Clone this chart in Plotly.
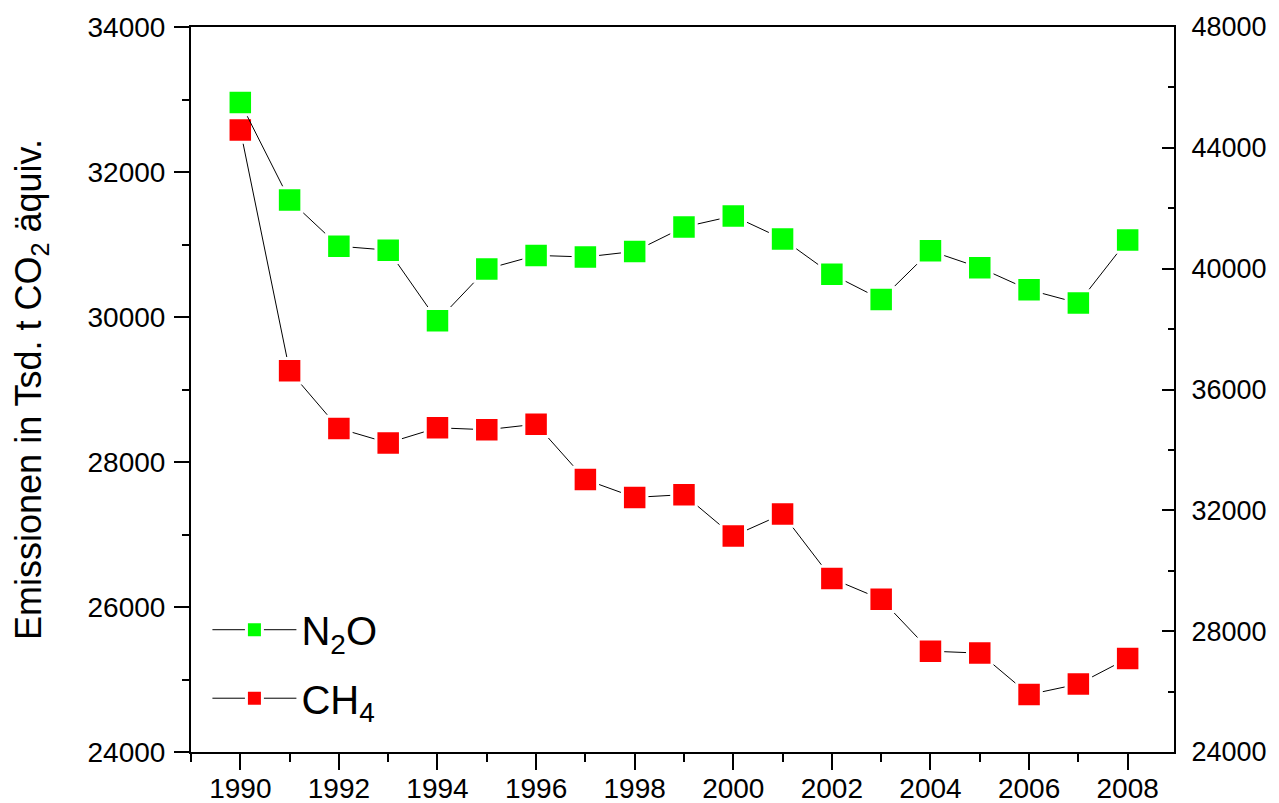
import plotly.graph_objects as go

years = list(range(1990, 2009))
n2o = [45504, 42271, 40744, 40612, 38275, 39990, 40440, 40387, 40572, 41378,
       41746, 40985, 39812, 38982, 40589, 40033, 39299, 38860, 40949]
ch4 = [32581, 29258, 28463, 28263, 28472, 28445, 28522, 27758, 27512, 27550,
       26979, 27282, 26393, 26107, 25391, 25364, 24792, 24937, 25291]

FONT = "Liberation Sans, Arial, Helvetica, sans-serif"

fig = go.Figure()
fig.add_trace(go.Scatter(
    x=years, y=n2o, yaxis="y2", mode="lines+markers", name="N<sub>2</sub>O",
    legendgroup="a",
    line=dict(color="black", width=1),
    marker=dict(symbol="square", size=24.5, color="#00ff00",
                line=dict(color="white", width=3)),
))
fig.add_trace(go.Scatter(
    x=years, y=ch4, yaxis="y", mode="lines+markers", name="CH<sub>4</sub>",
    legendgroup="b",
    line=dict(color="black", width=1),
    marker=dict(symbol="square", size=24.5, color="#ff0000",
                line=dict(color="white", width=3)),
))

fig.update_layout(
    width=1279, height=803,
    margin=dict(l=182.6, r=112.5, t=18.5, b=58.5, autoexpand=False),
    plot_bgcolor="white", paper_bgcolor="white",
    font=dict(family=FONT, size=28, color="black"),
    showlegend=True,
    legend=dict(x=0.0167, y=0.2135, xanchor="left", yanchor="top",
                font=dict(size=40, family=FONT), itemwidth=84,
                tracegroupgap=13.5, bgcolor="rgba(0,0,0,0)", borderwidth=0),
    xaxis=dict(range=[1989, 2008.94], tick0=1990, dtick=2, tickformat="d",
               automargin=False, ticklabelstandoff=-6,
               ticks="outside", ticklen=16, tickwidth=2, tickcolor="black",
               showline=True, linewidth=2, linecolor="black", mirror=True,
               showgrid=False, zeroline=False,
               minor=dict(dtick=1, tick0=1989, ticks="outside", ticklen=8,
                          tickwidth=1.5, tickcolor="black", showgrid=False),
               tickfont=dict(size=28)),
    yaxis=dict(range=[24000, 34000], dtick=2000, tickformat="d",
               automargin=False, ticklabelstandoff=3,
               ticks="outside", ticklen=15, tickwidth=2, tickcolor="black",
               showline=True, linewidth=2, linecolor="black",
               showgrid=False, zeroline=False,
               minor=dict(dtick=1000, ticks="outside", ticklen=7,
                          tickwidth=1.5, tickcolor="black", showgrid=False),
               tickfont=dict(size=28),
               title=dict(text="Emissionen in Tsd. t CO<sub>2</sub> äquiv.",
                          font=dict(size=36), standoff=38)),
    yaxis2=dict(range=[24000, 48000], dtick=4000, tickformat="d",
                automargin=False,
                overlaying="y", side="right",
                ticks="inside", ticklen=12, tickwidth=2, tickcolor="black",
                showline=True, linewidth=2, linecolor="black",
                showgrid=False, zeroline=False, ticklabelstandoff=10,
                minor=dict(dtick=2000, ticks="inside", ticklen=6,
                           tickwidth=1.5, tickcolor="black", showgrid=False),
                tickfont=dict(size=27)),
)

fig.write_html("out.html")
